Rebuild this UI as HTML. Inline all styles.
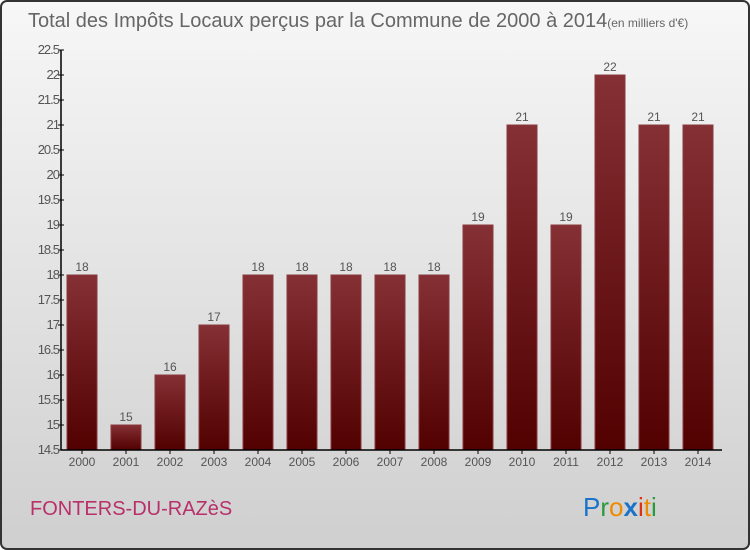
<!DOCTYPE html>
<html><head><meta charset="utf-8">
<style>
html,body{margin:0;padding:0;width:750px;height:550px;overflow:hidden;background:#fff;}
svg{display:block;font-family:"Liberation Sans",sans-serif;}
</style></head>
<body>
<svg width="750" height="550" viewBox="0 0 750 550">
<defs>
<linearGradient id="bg" x1="0" y1="0" x2="0" y2="1">
<stop offset="0" stop-color="#f7f7f7"/><stop offset="1" stop-color="#cfcfcf"/>
</linearGradient>
<linearGradient id="bar" x1="0" y1="0" x2="0" y2="1">
<stop offset="0" stop-color="#853035"/><stop offset="1" stop-color="#520000"/>
</linearGradient>
</defs>
<rect x="1" y="1" width="748" height="548" rx="6" fill="url(#bg)" stroke="#333" stroke-width="2"/>
<text x="28" y="27" font-size="20" fill="#666">Total des Impôts Locaux perçus par la Commune de 2000 à 2014<tspan font-size="12">(en milliers d'€)</tspan></text>
<g id="plot"></g>
<text x="30" y="515" font-size="20" fill="#b8306a">FONTERS-DU-RAZèS</text>
<g font-size="26">
<text x="583" y="516"><tspan fill="#1a73c8">P</tspan><tspan fill="#2a9a3a">r</tspan><tspan fill="#f08a00">o</tspan><tspan fill="#1a73c8" font-weight="bold">x</tspan><tspan fill="#e03010">i</tspan><tspan fill="#f08a00">t</tspan><tspan fill="#2a9a3a">i</tspan></text>
</g>
</svg>
<script>
const categories=["2000","2001","2002","2003","2004","2005","2006","2007","2008","2009","2010","2011","2012","2013","2014"];
const values=[18,15,16,17,18,18,18,18,18,19,21,19,22,21,21];
const labels=["18","15","16","17","18","18","18","18","18","19","21","19","22","21","21"];
const yTicks=[14.5,15,15.5,16,16.5,17,17.5,18,18.5,19,19.5,20,20.5,21,21.5,22,22.5];
const NS="http://www.w3.org/2000/svg";
const g=document.getElementById('plot');
function y(v){return 450-(v-14.5)*50;}
function x(i){return 82+44*i;}
function mk(t,a,txt){const e=document.createElementNS(NS,t);for(const k in a)e.setAttribute(k,a[k]);if(txt!==undefined)e.textContent=txt;g.appendChild(e);return e;}
values.forEach((v,i)=>{
 const r=mk('rect',{x:x(i)-15,y:y(v),width:30,height:450-y(v),fill:'url(#bar)',stroke:'#8a3a3e','stroke-width':1});
 
 
 const t=mk('text',{x:x(i),y:y(v)-4,'text-anchor':'middle','font-size':12,fill:'#555'},labels[i]);
 
 
 const c=mk('text',{x:x(i),y:466,'text-anchor':'middle','font-size':12,fill:'#555'},categories[i]);
 
 
 mk('line',{x1:x(i),y1:450,x2:x(i),y2:454,stroke:'#000'});
});
yTicks.forEach(v=>{
 mk('line',{x1:58,y1:y(v),x2:64,y2:y(v),stroke:'#000'});
 const t=mk('text',{x:59,y:y(v)+4,'text-anchor':'end','font-size':13,fill:'#555','letter-spacing':'-1'},String(v));
 
 
});
const ya=mk('line',{x1:61,y1:y(22.5),x2:61,y2:450,stroke:'#000','stroke-width':1.5});


const xa=mk('line',{x1:61,y1:450,x2:722,y2:450,stroke:'#000','stroke-width':1.5});


</script>
</body></html>
